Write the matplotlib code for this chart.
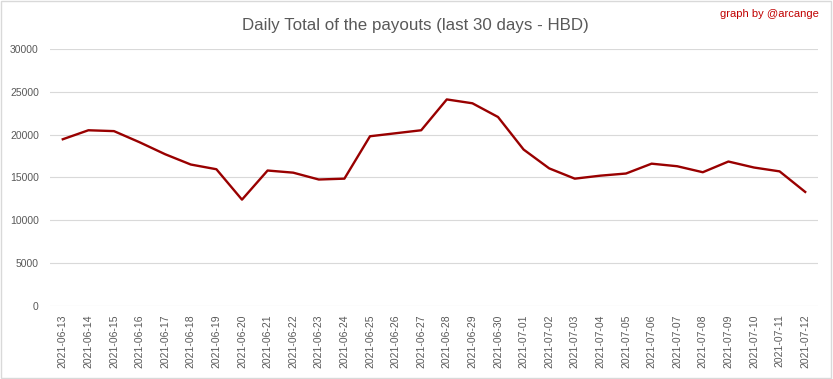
import matplotlib
matplotlib.use("Agg")
import matplotlib.pyplot as plt
from matplotlib.patches import Rectangle

# daily payouts in HBD
dates = ["2021-06-13", "2021-06-14", "2021-06-15", "2021-06-16", "2021-06-17",
         "2021-06-18", "2021-06-19", "2021-06-20", "2021-06-21", "2021-06-22",
         "2021-06-23", "2021-06-24", "2021-06-25", "2021-06-26", "2021-06-27",
         "2021-06-28", "2021-06-29", "2021-06-30", "2021-07-01", "2021-07-02",
         "2021-07-03", "2021-07-04", "2021-07-05", "2021-07-06", "2021-07-07",
         "2021-07-08", "2021-07-09", "2021-07-10", "2021-07-11", "2021-07-12"]
payouts = [19450, 20500, 20400, 19100, 17700, 16500, 15950, 12400, 15800, 15550,
           14750, 14850, 19800, 20150, 20500, 24100, 23650, 22050, 18250, 16050,
           14850, 15200, 15450, 16600, 16300, 15600, 16850, 16150, 15700, 13300]
y_ticks = [0, 5000, 10000, 15000, 20000, 25000, 30000]

TEXT_GREY = "#595959"
GRID_GREY = "#d9d9d9"

plt.rcParams['font.family'] = ['Liberation Sans', 'DejaVu Sans']

fig = plt.figure(figsize=(8.33, 3.79), dpi=100)
ax = fig.add_axes([0.060, 0.193, 0.922, 0.678])

ax.plot(range(len(dates)), payouts, color="#990000", linewidth=1.7, zorder=3)

ax.set_xlim(-0.5, len(dates) - 0.5)
ax.set_ylim(y_ticks[0], y_ticks[-1])
ax.set_yticks(y_ticks)
ax.set_xticks(range(len(dates)))
ax.set_xticklabels(dates, rotation=90)
ax.tick_params(axis="both", length=0, labelsize=7.5, labelcolor=TEXT_GREY)
ax.tick_params(axis="x", pad=6)
ax.tick_params(axis="y", pad=8)
ax.grid(axis="y", color=GRID_GREY, linewidth=0.8)
ax.set_axisbelow(True)
for s in ax.spines.values():
    s.set_visible(False)

fig.text(0.499, 0.932, "Daily Total of the payouts (last 30 days - HBD)",
         ha="center", va="center", fontsize=12.2, color=TEXT_GREY)
fig.text(0.983, 0.962, "graph by @arcange", ha="right", va="center",
         fontsize=8, color="#c00000")

# light border around the chart
fig.patches.append(Rectangle((0.001, 0.002), 0.997, 0.995, transform=fig.transFigure,
                             fill=False, edgecolor=GRID_GREY, linewidth=1))

fig.savefig("out.png", dpi=100)
